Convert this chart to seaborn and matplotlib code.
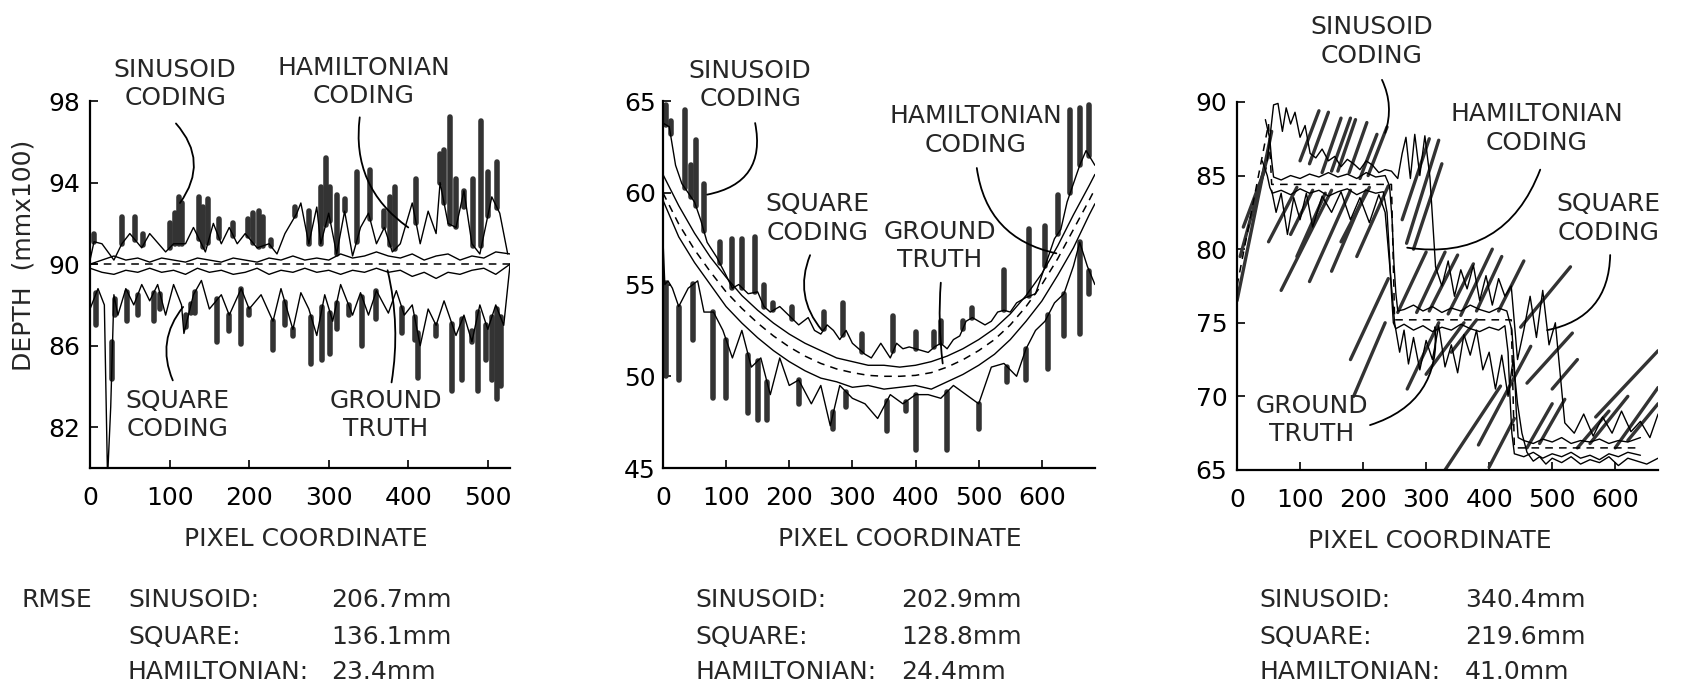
import numpy as np
import pandas as pd
import matplotlib
matplotlib.use("Agg")
import matplotlib.pyplot as plt
import seaborn as sns

# ---------------- panel 1 : flat plane at 90 ----------------
p1_gt_x = [0, 528]
p1_gt_y = [90.0, 90.0]

p1_ham_x = [0, 15, 30, 45, 60, 75, 90, 105, 120, 135, 150, 165, 180, 195, 210, 225, 240, 255,
            270, 285, 300, 315, 330, 345, 360, 375, 390, 405, 420, 435, 450, 465, 480, 495, 510, 528]
p1_ham_up = [90.0, 90.2, 90.4, 90.2, 90.3, 90.1, 90.3, 90.2, 90.1, 90.3, 90.2, 90.1, 90.3, 90.2,
             90.1, 90.3, 90.2, 90.4, 90.2, 90.3, 90.2, 90.5, 90.3, 90.4, 90.6, 90.4, 90.3, 90.5,
             90.2, 90.4, 90.5, 90.2, 90.4, 90.3, 90.6, 90.5]
p1_ham_lo = [89.8, 89.6, 89.5, 89.7, 89.6, 89.8, 89.6, 89.7, 89.5, 89.8, 89.6, 89.7, 89.5, 89.6,
             89.8, 89.5, 89.7, 89.6, 89.8, 89.6, 89.7, 89.5, 89.7, 89.6, 89.8, 89.6, 89.7, 89.4,
             89.6, 89.3, 89.6, 89.5, 89.7, 89.8, 89.5, 90.0]

p1_sq_up_x = [0, 5, 15, 30, 40, 50, 65, 75, 95, 105, 120, 130, 145, 155, 165, 175, 185, 195, 210,
              225, 235, 245, 260, 265, 275, 285, 290, 300, 310, 320, 330, 340, 350, 360, 370, 380,
              390, 405, 415, 425, 435, 440, 450, 460, 470, 480, 490, 505, 515, 525]
p1_sq_up_y = [90.2, 91.1, 91.0, 90.2, 91.0, 91.5, 90.8, 91.5, 90.6, 91.0, 91.0, 91.8, 90.6, 92.0,
              91.0, 91.8, 91.0, 91.5, 90.8, 91.0, 90.5, 91.5, 92.5, 93.0, 91.0, 92.8, 91.0, 92.5,
              90.5, 92.6, 90.4, 91.8, 92.5, 91.0, 91.8, 90.6, 91.0, 93.0, 91.0, 92.6, 91.5, 94.0,
              92.0, 91.8, 93.6, 91.0, 90.5, 93.3, 92.5, 90.5]
p1_sq_lo_x = [0, 10, 18, 22, 26, 30, 35, 45, 55, 65, 75, 85, 95, 105, 115, 118, 130, 140, 150,
              165, 175, 190, 200, 215, 230, 240, 255, 265, 275, 285, 295, 305, 315, 330, 340, 350,
              360, 375, 385, 395, 405, 415, 425, 435, 445, 460, 470, 480, 490, 500, 510, 520, 528]
p1_sq_lo_y = [87.8, 88.8, 88.0, 79.5, 83.0, 88.5, 87.5, 88.8, 88.0, 89.0, 88.2, 89.0, 87.5, 89.0,
              88.0, 86.6, 88.5, 89.2, 87.8, 88.5, 87.5, 88.8, 87.8, 88.5, 87.2, 88.8, 86.8, 88.6,
              87.8, 86.5, 88.5, 87.2, 89.0, 87.5, 88.6, 87.5, 88.7, 87.6, 88.7, 87.5, 88.0, 86.0,
              87.8, 87.0, 88.2, 86.5, 87.5, 86.2, 88.0, 86.8, 88.0, 87.0, 90.0]

p1_sin_up_x = [5, 40, 57, 67, 100, 107, 112, 116, 137, 142, 148, 162, 180, 198, 205, 212, 217,
               227, 258, 275, 290, 296, 302, 310, 320, 335, 352, 370, 377, 383, 410, 440, 445,
               452, 460, 470, 482, 492, 500, 512]
p1_sin_up_top = [91.5, 92.3, 92.3, 91.5, 92.0, 92.5, 93.3, 93.0, 93.3, 92.8, 93.2, 92.2, 92.0,
                 92.2, 92.5, 92.6, 92.3, 91.2, 92.8, 92.6, 93.8, 95.2, 93.8, 93.4, 93.2, 94.5,
                 94.6, 92.6, 93.3, 93.8, 94.2, 95.4, 95.6, 97.2, 94.2, 92.8, 94.2, 97.0, 94.5, 95.0]
p1_sin_lo_x = [8, 27, 31, 47, 60, 80, 88, 120, 127, 132, 160, 175, 190, 200, 230, 245, 255, 278,
               292, 302, 310, 325, 342, 360, 392, 408, 412, 435, 455, 468, 480, 488, 498, 505,
               512, 516]
p1_sin_lo_bot = [87.0, 86.2, 87.5, 87.2, 87.5, 87.2, 87.8, 87.5, 87.6, 87.6, 86.2, 86.7, 86.1,
                 87.5, 85.8, 87.0, 86.5, 85.1, 85.3, 85.6, 86.8, 87.5, 86.0, 87.3, 86.6, 86.3,
                 84.4, 86.5, 83.8, 84.3, 86.7, 83.8, 85.3, 84.3, 83.4, 84.0]

# ---------------- panel 2 : curved surface ----------------
p2_x = [0, 25, 50, 75, 100, 125, 150, 175, 200, 225, 250, 275, 300, 325, 350, 375, 400, 425,
        450, 475, 500, 525, 550, 575, 600, 625, 650, 675, 684]
p2_gt_y = [60.0, 58.3, 56.9, 55.7, 54.6, 53.7, 52.9, 52.2, 51.6, 51.1, 50.7, 50.4, 50.2, 50.05,
           50.0, 50.0, 50.05, 50.2, 50.5, 50.9, 51.4, 52.0, 52.8, 53.8, 55.0, 56.4, 58.0, 59.6, 60.2]
p2_ham_up = [61.0, 59.3, 57.8, 56.5, 55.4, 54.4, 53.6, 52.9, 52.3, 51.8, 51.4, 51.0, 50.8, 50.6,
             50.6, 50.5, 50.6, 50.8, 51.1, 51.5, 52.0, 52.6, 53.4, 54.4, 55.6, 57.1, 58.8, 60.4, 61.0]
p2_ham_lo = [59.6, 57.6, 56.2, 55.0, 53.8, 52.9, 52.1, 51.4, 50.8, 50.3, 49.9, 49.7, 49.4, 49.5,
             49.3, 49.4, 49.5, 49.3, 49.7, 50.1, 50.6, 51.2, 52.0, 53.0, 54.1, 55.5, 57.0, 58.8, 59.4]

p2_sq_up_x = [0, 10, 20, 30, 40, 50, 60, 70, 85, 100, 110, 120, 135, 150, 160, 170, 185, 200,
              215, 230, 240, 250, 260, 270, 280, 290, 300, 310, 320, 330, 345, 360, 370, 380,
              390, 400, 410, 420, 430, 440, 450, 460, 470, 480, 490, 500, 510, 520, 530, 540,
              550, 560, 575, 590, 600, 610, 620, 630, 640, 650, 660, 670, 684]
p2_sq_up_y = [63.8, 63.6, 61.5, 60.5, 60.0, 59.5, 58.5, 57.3, 56.5, 55.5, 54.8, 55.0, 54.5, 54.6,
              53.8, 53.5, 53.8, 53.3, 52.8, 53.2, 52.5, 52.3, 52.8, 52.5, 52.0, 52.5, 51.8, 51.5,
              51.2, 51.0, 51.8, 51.0, 51.8, 51.5, 51.6, 51.5, 51.4, 51.3, 51.6, 51.8, 51.5, 52.0,
              52.2, 53.0, 53.2, 53.0, 52.8, 53.0, 53.5, 53.6, 53.5, 54.0, 54.3, 54.5, 55.5, 56.5,
              57.5, 58.0, 59.5, 60.5, 61.5, 62.3, 61.5]
p2_sq_lo_x = [0, 3, 8, 15, 25, 40, 55, 65, 80, 95, 110, 125, 140, 155, 170, 185, 200, 215, 235,
              250, 265, 280, 300, 320, 340, 360, 380, 400, 420, 440, 460, 480, 500, 520, 540,
              560, 575, 590, 605, 620, 635, 650, 660, 672, 684]
p2_sq_lo_y = [57.5, 55.0, 55.2, 54.8, 53.8, 54.8, 55.2, 53.5, 53.5, 52.5, 51.0, 52.5, 50.5, 51.0,
              49.0, 51.0, 49.5, 49.8, 48.5, 49.5, 47.3, 49.5, 48.8, 48.5, 47.7, 49.0, 48.5, 49.0,
              49.0, 48.8, 49.5, 49.0, 48.5, 50.5, 50.7, 50.0, 51.5, 52.5, 53.0, 54.0, 54.5, 56.0,
              57.3, 56.0, 55.0]

p2_sin_up_x = [5, 12, 35, 45, 52, 65, 90, 110, 125, 145, 160, 175, 205, 255, 285, 315, 365, 400,
               430, 440, 475, 490, 540, 580, 605, 625, 645, 660, 675]
p2_sin_up_top = [64.8, 63.9, 64.5, 61.5, 62.9, 60.5, 57.3, 57.5, 57.5, 57.6, 55.0, 54.0, 53.8,
                 53.5, 54.0, 52.3, 53.3, 52.4, 52.4, 53.0, 53.0, 53.7, 55.8, 58.0, 58.2, 59.9,
                 64.5, 64.6, 64.8]
p2_sin_lo_x = [5, 25, 48, 80, 100, 135, 150, 165, 215, 270, 290, 355, 385, 400, 450, 500, 545,
               575, 610, 635, 660, 675]
p2_sin_lo_bot = [50.0, 49.8, 52.0, 48.8, 48.8, 48.0, 47.6, 47.6, 48.5, 47.1, 48.3, 47.0, 48.1,
                 46.0, 46.0, 47.1, 49.7, 49.8, 50.4, 52.2, 52.3, 54.5]

# ---------------- panel 3 : staircase ----------------
p3_gt_x = [0, 50, 55, 245, 250, 435, 440, 640]
p3_gt_y = [77.5, 88.5, 84.4, 84.4, 75.2, 75.2, 66.5, 66.5]

p3_ham_up_x = [45, 52, 55, 58, 70, 85, 100, 115, 130, 145, 160, 175, 190, 205, 220, 235, 242,
               246, 249, 252, 255, 265, 280, 295, 310, 325, 340, 355, 370, 385, 400, 415, 428,
               436, 440, 443, 446, 455, 470, 485, 500, 515, 530, 545, 560, 575, 590, 605, 620, 640]
p3_ham_up_y = [88.8, 87.5, 86.0, 84.9, 84.7, 85.0, 84.8, 85.1, 84.9, 85.2, 84.9, 85.1, 84.8,
               85.2, 84.9, 85.0, 84.3, 82.0, 79.0, 77.0, 75.8, 75.9, 76.2, 75.8, 76.1, 75.7,
               76.0, 75.8, 76.2, 75.9, 75.7, 76.0, 75.8, 74.5, 72.0, 69.0, 67.2, 67.0, 66.8,
               67.1, 66.9, 67.2, 66.8, 67.0, 66.9, 67.1, 66.8, 67.0, 66.9, 67.2]
p3_ham_lo_x = [40, 48, 52, 56, 70, 85, 100, 115, 130, 145, 160, 175, 190, 205, 220, 232, 238,
               242, 245, 248, 252, 265, 280, 295, 310, 325, 340, 355, 370, 385, 400, 415, 425,
               430, 433, 436, 440, 455, 470, 485, 500, 515, 530, 545, 560, 575, 590, 605, 620, 640]
p3_ham_lo_y = [86.0, 85.0, 84.2, 83.8, 84.0, 83.7, 84.1, 83.8, 84.0, 83.6, 83.9, 84.1, 83.7,
               84.0, 83.8, 83.9, 82.5, 79.5, 77.0, 75.0, 74.6, 74.9, 74.5, 74.8, 74.4, 74.7,
               74.5, 74.9, 74.6, 74.4, 74.7, 74.5, 74.8, 73.0, 70.0, 67.5, 66.1, 65.9, 66.2,
               65.8, 66.1, 65.9, 66.2, 65.8, 66.0, 65.7, 66.1, 65.9, 66.2, 66.0]

p3_sq_a_x = [48, 58, 65, 72, 78, 85, 92, 100, 108, 116, 125, 135, 145, 155, 165, 175, 185, 195,
             205, 215, 225, 235, 245, 255, 262, 268, 275, 282, 290, 298, 306, 315, 325, 335, 345,
             355, 365, 375, 385, 395, 405, 415, 425, 435, 445, 455, 465, 475, 485, 495, 505,
             520, 535, 550, 565, 580, 595, 610, 625, 640, 655, 668]
p3_sq_a_y = [86.0, 89.8, 89.9, 88.0, 89.6, 88.5, 89.3, 87.6, 88.4, 86.5, 86.2, 86.8, 86.0, 86.3,
             85.6, 86.1, 85.8, 85.4, 86.0, 85.7, 85.2, 85.4, 85.3, 84.8, 86.5, 87.6, 84.8, 87.8,
             85.0, 87.7, 84.9, 78.8, 77.5, 79.2, 76.8, 78.6, 77.3, 78.9, 76.5, 78.2, 76.2, 78.0,
             76.8, 77.5, 72.5, 74.5, 76.8, 74.0, 77.2, 73.5, 75.0, 68.2, 67.5, 68.8, 67.3, 68.6,
             67.5, 69.0, 67.6, 68.3, 67.2, 68.8]
p3_sq_b_x = [55, 62, 70, 80, 90, 100, 110, 120, 135, 150, 165, 180, 195, 210, 225, 235, 242, 250,
             258, 265, 272, 280, 290, 300, 310, 320, 330, 340, 350, 360, 370, 380, 390, 400, 410,
             420, 430, 438, 445, 452, 460, 470, 480, 490, 500, 515, 530, 545, 560, 575, 590,
             605, 620, 635, 650, 668]
p3_sq_b_y = [84.0, 82.5, 83.8, 81.0, 83.5, 82.0, 83.8, 81.5, 83.6, 82.5, 83.9, 82.0, 83.5, 81.8,
             83.7, 82.5, 79.0, 75.0, 73.0, 74.5, 72.2, 74.0, 71.8, 73.8, 72.5, 74.8, 72.0, 73.5,
             71.6, 74.2, 72.8, 74.5, 71.8, 73.0, 70.5, 72.8, 70.0, 72.5, 69.5, 67.5, 66.2, 65.6,
             65.9, 65.4, 65.8, 65.5, 65.9, 65.4, 65.7, 65.5, 65.9, 65.3, 65.8, 65.6, 65.4, 65.8]

# sinusoid streaks (start x, start y, end x, end y)
p3_sin_x0 = [0, 5, 10, 100, 115, 135, 150, 160, 178, 195, 208, 70, 95, 115, 50, 150, 165, 190,
             85, 269, 280, 262, 255, 285, 305, 335, 355, 380, 415, 450, 180, 185, 270, 300, 340,
             460, 500, 330, 383, 400, 460, 480, 540, 560, 569, 600, 620]
p3_sin_y0 = [76.5, 79.5, 81.5, 86.0, 85.8, 85.2, 85.3, 85.3, 85.2, 84.8, 85.0, 77.2, 79.5, 77.8,
             80.5, 78.5, 80.5, 79.5, 81.0, 80.4, 80.0, 82.0, 75.7, 75.7, 75.8, 75.6, 75.5, 75.8,
             75.8, 74.7, 72.5, 70.0, 70.5, 71.5, 73.0, 70.9, 70.5, 65.0, 66.7, 65.2, 66.5, 66.8,
             66.5, 66.8, 68.6, 66.5, 67.0]
p3_sin_x1 = [55, 50, 45, 130, 145, 165, 180, 188, 206, 222, 238, 150, 140, 180, 95, 205, 210,
             240, 120, 320, 325, 305, 300, 330, 350, 375, 405, 420, 455, 529, 240, 235, 320, 360,
             380, 532, 540, 418, 466, 440, 500, 520, 590, 620, 668, 668, 668]
p3_sin_y1 = [88.0, 86.5, 85.5, 89.4, 89.3, 88.9, 88.9, 88.8, 88.6, 87.8, 88.3, 84.0, 83.8, 84.0,
             84.2, 84.0, 84.2, 84.3, 84.0, 87.4, 85.8, 87.5, 79.8, 79.8, 79.6, 79.0, 80.0, 79.5,
             79.2, 78.8, 78.0, 75.0, 75.0, 75.0, 75.2, 74.3, 72.5, 70.7, 73.4, 68.5, 69.5, 69.8,
             69.0, 70.0, 73.1, 70.6, 69.5]

rmse_names = ["SINUSOID:", "SQUARE:", "HAMILTONIAN:"]
rmse_vals = [["206.7mm", "136.1mm", "23.4mm"],
             ["202.9mm", "128.8mm", "24.4mm"],
             ["340.4mm", "219.6mm", "41.0mm"]]

FS = 18
INK = "black"
SPIKE = "#333333"


def thin(ax, xs, ys, lw=1.0, dashed=False):
    sns.lineplot(x=xs, y=ys, ax=ax, color=INK, lw=lw, sort=False, estimator=None)
    if dashed:
        ax.lines[-1].set_dashes([5, 4])


def segments(ax, x0, y0, x1, y1, lw):
    n = len(x0)
    df = pd.DataFrame({
        "x": np.column_stack([x0, x1]).ravel(),
        "y": np.column_stack([y0, y1]).ravel(),
        "seg": np.repeat(np.arange(n), 2),
    })
    sns.lineplot(data=df, x="x", y="y", units="seg", estimator=None, sort=False,
                 color=SPIKE, lw=lw, ax=ax)


def spikes(ax, xs, base_x, base_y, tips, lw=4.0):
    # each spike hangs off the square-coding envelope it sits on
    base = np.interp(xs, base_x, base_y)
    segments(ax, xs, base, xs, tips, lw)


def style_axis(ax, xlim, ylim, xticks, yticks, xpad, ypad, xlab_x):
    ax.set_xlim(*xlim)
    ax.set_ylim(*ylim)
    ax.set_xticks(xticks)
    ax.set_yticks(yticks)
    sns.despine(ax=ax)
    for s in ("left", "bottom"):
        ax.spines[s].set_linewidth(1.6)
        ax.spines[s].set_color(INK)
    ax.tick_params(direction="in", length=6, width=1.2, labelsize=FS, colors=INK)
    ax.tick_params(axis="x", pad=xpad)
    ax.tick_params(axis="y", pad=ypad)
    ax.set_xlabel("PIXEL COORDINATE", fontsize=FS)
    ax.xaxis.set_label_coords(xlab_x, -0.16)
    ax.set_ylabel("")


def callouts(ax, items):
    for label, txy, start, end, rad in items:
        ax.text(txy[0], txy[1], label, ha="center", va="center", fontsize=FS,
                linespacing=1.25, clip_on=False)
        ax.annotate("", xy=end, xytext=start, annotation_clip=False,
                    arrowprops=dict(arrowstyle="-", color=INK, lw=1.3, shrinkA=0, shrinkB=0,
                                    connectionstyle=f"arc3,rad={rad}"))


sns.set_style("ticks")
plt.rcParams["font.family"] = ["DejaVu Sans"]

fig = plt.figure(figsize=(17.02, 6.94), dpi=100)
fig.patch.set_facecolor("white")

# ---- panel 1
ax1 = fig.add_axes([0.0529, 0.3256, 0.2468, 0.5288])
spikes(ax1, p1_sin_up_x, p1_sq_up_x, p1_sq_up_y, p1_sin_up_top)
spikes(ax1, p1_sin_lo_x, p1_sq_lo_x, p1_sq_lo_y, p1_sin_lo_bot)
thin(ax1, p1_sq_up_x, p1_sq_up_y)
thin(ax1, p1_sq_lo_x, p1_sq_lo_y)
thin(ax1, p1_ham_x, p1_ham_up)
thin(ax1, p1_ham_x, p1_ham_lo)
thin(ax1, p1_gt_x, p1_gt_y, lw=1.1, dashed=True)
style_axis(ax1, (0, 528), (80, 98), [0, 100, 200, 300, 400, 500], [82, 86, 90, 94, 98],
           13, 7, 0.514)
ax1.set_ylabel("DEPTH  (mmx100)", fontsize=FS)
ax1.yaxis.set_label_coords(-0.13, 0.58)
callouts(ax1, [
    ("SINUSOID\nCODING", (107, 98.83), (108, 96.9), (113, 93.0), -0.4),
    ("HAMILTONIAN\nCODING", (344, 98.93), (339, 97.2), (400, 91.8), 0.3),
    ("SQUARE\nCODING", (110, 82.6), (104, 84.3), (117, 87.9), -0.3),
    ("GROUND\nTRUTH", (372, 82.6), (379, 84.2), (374, 89.7), 0.1),
])

# ---- panel 2
ax2 = fig.add_axes([0.3895, 0.3256, 0.2538, 0.5288])
spikes(ax2, p2_sin_up_x, p2_sq_up_x, p2_sq_up_y, p2_sin_up_top)
spikes(ax2, p2_sin_lo_x, p2_sq_lo_x, p2_sq_lo_y, p2_sin_lo_bot)
thin(ax2, p2_sq_up_x, p2_sq_up_y)
thin(ax2, p2_sq_lo_x, p2_sq_lo_y)
thin(ax2, p2_x, p2_ham_up)
thin(ax2, p2_x, p2_ham_lo)
thin(ax2, p2_x, p2_gt_y, lw=1.1, dashed=True)
style_axis(ax2, (0, 684), (45, 65), [0, 100, 200, 300, 400, 500, 600], [45, 50, 55, 60, 65],
           13, 5, 0.549)
callouts(ax2, [
    ("SINUSOID\nCODING", (138, 65.87), (146, 63.8), (70, 59.9), -0.5),
    ("SQUARE\nCODING", (245, 58.6), (233, 56.6), (252, 52.5), 0.3),
    ("GROUND\nTRUTH", (438, 57.1), (440, 55.1), (443, 50.7), 0.05),
    ("HAMILTONIAN\nCODING", (495, 63.4), (497, 61.35), (623, 56.7), 0.35),
])

# ---- panel 3
ax3 = fig.add_axes([0.7268, 0.3228, 0.2474, 0.5303])
segments(ax3, p3_sin_x0, p3_sin_y0, p3_sin_x1, p3_sin_y1, 2.4)
thin(ax3, p3_sq_a_x, p3_sq_a_y)
thin(ax3, p3_sq_b_x, p3_sq_b_y)
thin(ax3, p3_ham_up_x, p3_ham_up_y)
thin(ax3, p3_ham_lo_x, p3_ham_lo_y)
thin(ax3, p3_gt_x, p3_gt_y, lw=1.1, dashed=True)
style_axis(ax3, (0, 668), (65, 90), [0, 100, 200, 300, 400, 500, 600], [65, 70, 75, 80, 85, 90],
           13, 7, 0.458)
callouts(ax3, [
    ("SINUSOID\nCODING", (214, 94.1), (230, 91.5), (235, 87.9), -0.2),
    ("HAMILTONIAN\nCODING", (476, 88.2), (481, 85.4), (270, 80.1), -0.4),
    ("SQUARE\nCODING", (589, 82.1), (592, 79.6), (492, 74.5), -0.4),
    ("GROUND\nTRUTH", (119, 68.4), (211, 68.05), (314, 74.7), 0.4),
])

# ---- RMSE table under the panels
W, H = 1702.0, 694.0
row_y = [600, 637, 672]
name_x = [128, 695, 1259]
val_x = [331, 901, 1465]
fig.text(22 / W, 1 - row_y[0] / H, "RMSE", fontsize=FS, va="center", ha="left")
for p in range(3):
    for r in range(3):
        fig.text(name_x[p] / W, 1 - row_y[r] / H, rmse_names[r], fontsize=FS,
                 va="center", ha="left")
        fig.text(val_x[p] / W, 1 - row_y[r] / H, rmse_vals[p][r], fontsize=FS,
                 va="center", ha="left")

fig.savefig("out.png", dpi=100, facecolor="white")
